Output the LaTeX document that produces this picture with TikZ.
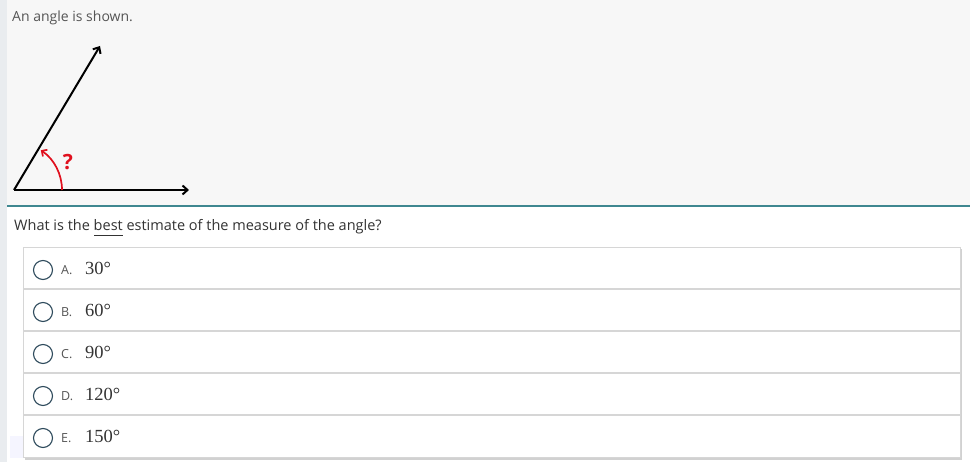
\documentclass[tikz,border=0pt]{standalone}
\usepackage{fontspec}
\setmainfont{Open Sans}
\newfontfamily\serifnum{Liberation Serif}
\usetikzlibrary{arrows.meta}
\definecolor{topbg}{HTML}{F7F7F7}
\definecolor{stripbg}{HTML}{E9ECEF}
\definecolor{teal}{HTML}{3F8790}
\definecolor{txtgray}{HTML}{555555}
\definecolor{txtdark}{HTML}{333333}
\definecolor{rowline}{HTML}{D6D6D6}
\definecolor{circ}{HTML}{2E4A5C}
\definecolor{qred}{HTML}{E0101E}
\tikzset{
  ray/.style={line width=2pt,-{Straight Barb[length=5pt,width=9pt,line width=2pt]}},
  radio/.style={circle,draw=circ,line width=1.1pt,minimum size=19pt,inner sep=0pt},
  letter/.style={anchor=west,inner sep=0pt,text=txtgray,font=\fontsize{12.5}{14}\selectfont},
  value/.style={anchor=west,inner sep=0pt,text=txtdark,font=\serifnum\fontsize{18.5}{20}\selectfont},
}
\begin{document}
\begin{tikzpicture}[x=1pt,y=-1pt]
\useasboundingbox (0,0) rectangle (970,462);
\fill[white] (0,0) rectangle (970,462);
\fill[topbg] (7,0) rectangle (970,205);
\fill[stripbg] (0,0) rectangle (7,462);
\draw[teal,line width=2pt] (7,206) -- (970,206);
% faint overlay at bottom left
\fill[blue!4] (10,436) rectangle (182,458);
% title
\node[anchor=base west,inner sep=0pt,text=txtgray,font=\fontsize{14}{16}\selectfont] (title) at (12,22) {An angle is shown.};
% angle
\coordinate (V) at (14,190);
\coordinate (H) at (189,190);
\coordinate (S) at (100,46);
\draw[ray] (V) -- (H);
\draw[ray] (V) -- (S);
\draw[qred,line width=1.7pt,-{Straight Barb[length=4pt,width=8pt,line width=1.7pt]}] (62,190) arc[start angle=0,end angle=-56,radius=48];
\node[text=qred,font=\bfseries\fontsize{21}{23}\selectfont,inner sep=0pt] (q) at (68,162) {?};
% question
\node[anchor=base west,inner sep=0pt,text=txtdark,font=\fontsize{14.5}{16}\selectfont] (question) at (14,231) {What is the best estimate of the measure of the angle?};
\draw[txtdark,line width=1pt] (94,235.5) -- (123,235.5);
% options box
\fill[black!18] (25,249) rectangle (962,460);
\fill[white,draw=rowline,line width=0.8pt] (23,247) rectangle (960,457);
\foreach \y in {289,331,373,415} \draw[rowline,line width=1.2pt] (23,\y) -- (960,\y);
\foreach \l/\v/\y [count=\i] in {A./30/268,B./60/310,C./90/352,D./120/394,E./150/436}{
  \node[radio] (r\i) at (43,\y+2) {};
  \node[letter] (l\i) at (61,\y+2) {\l};
  \node[value] (v\i) at (85,\y) {\v\textdegree};
}
\end{tikzpicture}
\end{document}
